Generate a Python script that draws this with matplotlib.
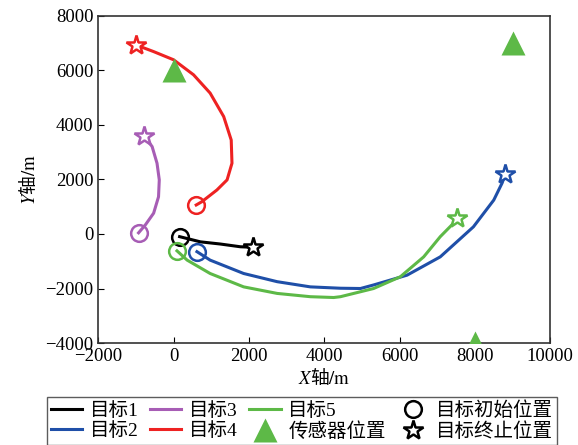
import numpy as np
import matplotlib
matplotlib.use("Agg")
import matplotlib.pyplot as plt
from matplotlib.lines import Line2D

plt.rcParams['font.family'] = ['Liberation Serif', 'Noto Sans CJK SC']
plt.rcParams['mathtext.fontset'] = 'stix'

# trajectories (x, y) in metres
t1_x = [160, 450, 710, 1240, 1770, 2110]
t1_y = [-100, -200, -290, -370, -470, -490]

t2_x = [620, 970, 1860, 2750, 3630, 4430, 4960, 5310, 6200, 7080, 7960, 8500, 8720, 8810]
t2_y = [-650, -960, -1450, -1750, -1940, -1990, -2000, -1870, -1510, -840, 260, 1240, 1860, 2200]

t3_x = [-930, -750, -530, -400, -380, -440, -570, -780]
t3_y = [40, 330, 760, 1360, 1980, 2590, 3200, 3590]

t4_x = [600, 750, 1150, 1420, 1550, 1530, 1330, 970, 530, 0, -530, -1010]
t4_y = [1060, 1180, 1610, 1980, 2590, 3440, 4300, 5160, 5830, 6380, 6680, 6930]

t5_x = [90, 360, 970, 1860, 2750, 3630, 4250, 4430, 5310, 6020, 6640, 7080, 7430, 7520]
t5_y = [-620, -960, -1450, -1940, -2180, -2300, -2330, -2300, -2000, -1570, -840, -100, 390, 570]

sensor_x = [0, 9000, 8000]
sensor_y = [6000, 7000, -4000]

colors = ['black', '#1f4fa8', '#a75db5', '#ee2222', '#5db947']
labels = ['目标1', '目标2', '目标3', '目标4', '目标5']
tracks = [(t1_x, t1_y), (t2_x, t2_y), (t3_x, t3_y), (t4_x, t4_y), (t5_x, t5_y)]

fig = plt.figure(figsize=(5.78, 4.45), dpi=100)
ax = fig.add_axes([0.170, 0.229, 0.782, 0.736])

for (xs, ys), c in zip(tracks, colors):
    ax.plot(xs, ys, color=c, lw=2.2, zorder=3, solid_joinstyle='round')
    ax.plot(xs[0], ys[0], 'o', ms=12, mfc='none', mec=c, mew=1.8, zorder=4)
    ax.plot(xs[-1], ys[-1], '*', ms=15, mfc='white', mec=c, mew=1.8, zorder=4)

ax.plot(sensor_x, sensor_y, '^', ms=17, color='#5db947', mec='none', zorder=5)

ax.set_xlim(-2000, 10000)
ax.set_ylim(-4000, 8000)
ax.set_xticks(np.arange(-2000, 10001, 2000))
ax.set_yticks(np.arange(-4000, 8001, 2000))
ax.tick_params(direction='in', labelsize=13.5, top=False, right=False, length=4)
for s in ax.spines.values():
    s.set_color('#333333')
    s.set_linewidth(1.2)
ax.set_xlabel(r'$X$轴$\mathrm{/m}$', fontsize=13.5, labelpad=2, family='Noto Sans CJK SC')
ax.set_ylabel(r'$Y$轴$\mathrm{/m}$', fontsize=13.5, labelpad=4, family='Noto Sans CJK SC')

handles = [Line2D([], [], color=c, lw=2.2) for c in colors]
handles.append(Line2D([], [], marker='^', ls='none', ms=17, color='#5db947', mec='none'))
handles.append(Line2D([], [], marker='o', ls='none', ms=12, mfc='none', mec='black', mew=1.8))
handles.append(Line2D([], [], marker='*', ls='none', ms=15, mfc='white', mec='black', mew=1.8))
leg_labels = labels + ['传感器位置', '目标初始位置', '目标终止位置']
fig.legend(handles, leg_labels, ncol=4, loc='upper left', bbox_to_anchor=(0.081, 0.108),
           fontsize=14, frameon=True, fancybox=False, edgecolor='#333333',
           handlelength=1.6, handletextpad=0.4, columnspacing=0.6, labelspacing=0.15,
           borderpad=0.2, borderaxespad=0)

fig.savefig('out.png', dpi=100)
